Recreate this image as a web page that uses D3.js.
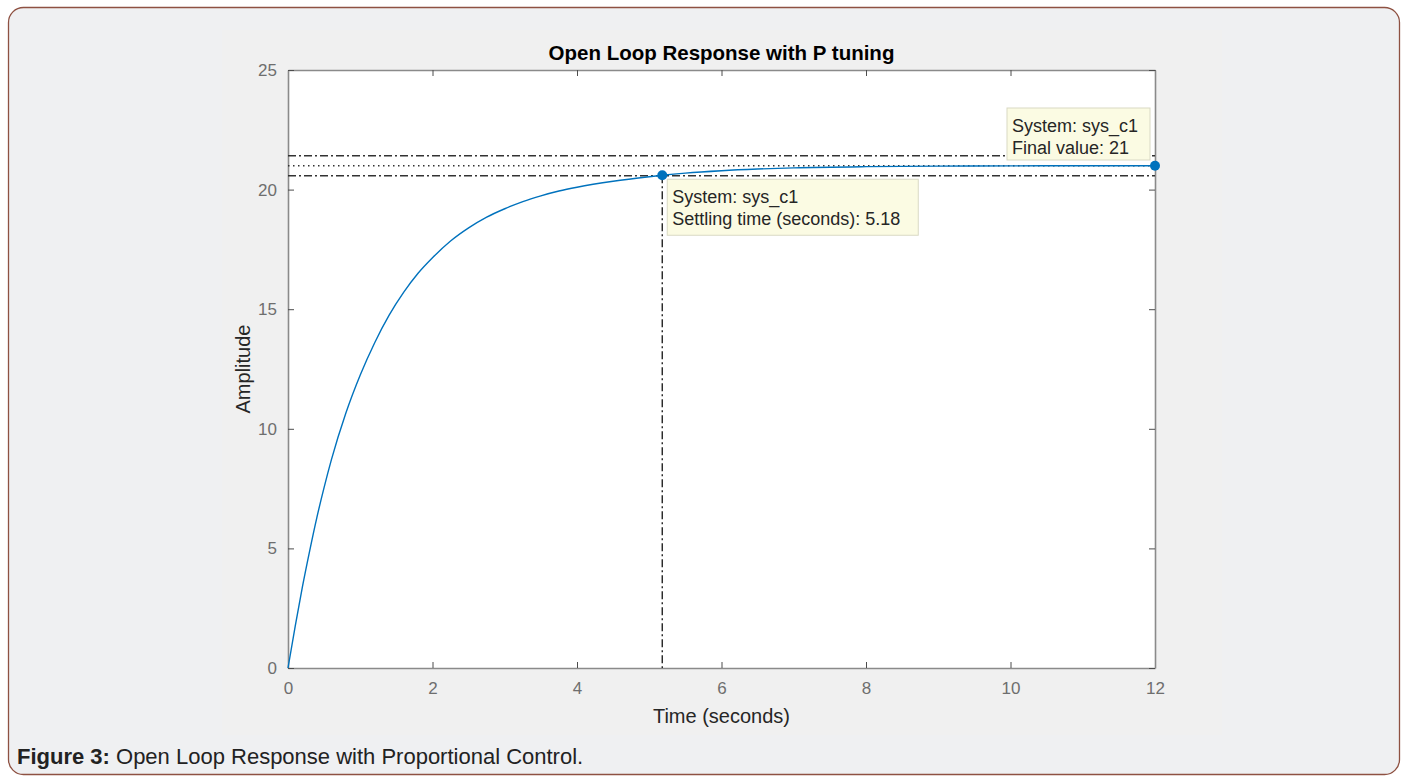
<!DOCTYPE html>
<html>
<head>
<meta charset="utf-8">
<script src="https://cdn.jsdelivr.net/npm/d3@7"></script>
<style>
  html, body { margin: 0; padding: 0; background: #ffffff; }
  svg { display: block; font-family: Arial, "Liberation Sans", sans-serif; }
</style>
</head>
<body>
<svg id="chart" width="1405" height="778"></svg>
<script>
// Step response samples of sys_c1 (time in seconds, amplitude)
const timeValues = [0, 0.1, 0.2, 0.3, 0.4, 0.5, 0.6, 0.8, 1.0, 1.2, 1.4, 1.6, 1.8, 2.0, 2.25, 2.5, 2.75, 3.0, 3.25, 3.5, 3.75, 4.0, 4.5, 5.0, 5.18, 5.5, 6.0, 6.5, 7.0, 8.0, 9.0, 10.0, 11.0, 12.0];
const amplitudeValues = [0, 1.75, 3.4, 4.9, 6.3, 7.55, 8.7, 10.65, 12.25, 13.6, 14.75, 15.7, 16.5, 17.15, 17.85, 18.4, 18.85, 19.2, 19.5, 19.74, 19.94, 20.1, 20.35, 20.54, 20.6, 20.69, 20.79, 20.86, 20.91, 20.96, 20.98, 20.99, 21.0, 21.0];

const xTicks = [0, 2, 4, 6, 8, 10, 12];
const yTicks = [0, 5, 10, 15, 20, 25];

const finalValue = 21;
const settlingTime = 5.18;
const settlingAmplitude = 20.6;
const settlingBand = 0.02;

const titleText = "Open Loop Response with P tuning";
const xLabelText = "Time (seconds)";
const yLabelText = "Amplitude";
const systemName = "sys_c1";

const svg = d3.select("#chart");

// Page panel with rounded border
svg.append("rect")
  .attr("x", 8.5).attr("y", 7.5)
  .attr("width", 1391).attr("height", 767)
  .attr("rx", 15).attr("ry", 15)
  .attr("fill", "#eff0f2")
  .attr("stroke", "#8e5142")
  .attr("stroke-width", 1.3);

// Figure window background
svg.append("rect")
  .attr("x", 222).attr("y", 30)
  .attr("width", 1000).attr("height", 705)
  .attr("fill", "#f0f0f0");

const margin = { left: 288, top: 70, right: 1155, bottom: 668 };

const x = d3.scaleLinear().domain([0, 12]).range([margin.left, margin.right]);
const y = d3.scaleLinear().domain([0, 25]).range([margin.bottom, margin.top]);

// Plot area
svg.append("rect")
  .attr("x", margin.left).attr("y", margin.top)
  .attr("width", margin.right - margin.left)
  .attr("height", margin.bottom - margin.top)
  .attr("fill", "#ffffff");

// Axes with inward ticks
const tickColor = "#4d4d4d";
const axisBottom = svg.append("g")
  .attr("transform", `translate(0,${margin.bottom})`)
  .call(d3.axisBottom(x).tickValues(xTicks).tickSizeInner(-6).tickSizeOuter(0).tickPadding(14).tickFormat(d3.format("d")));
const axisTop = svg.append("g")
  .attr("transform", `translate(0,${margin.top})`)
  .call(d3.axisTop(x).tickValues(xTicks).tickSizeInner(-6).tickSizeOuter(0).tickFormat(""));
const axisLeft = svg.append("g")
  .attr("transform", `translate(${margin.left},0)`)
  .call(d3.axisLeft(y).tickValues(yTicks).tickSizeInner(-6).tickSizeOuter(0).tickPadding(11).tickFormat(d3.format("d")));
const axisRight = svg.append("g")
  .attr("transform", `translate(${margin.right},0)`)
  .call(d3.axisRight(y).tickValues(yTicks).tickSizeInner(-6).tickSizeOuter(0).tickFormat(""));

[axisBottom, axisTop, axisLeft, axisRight].forEach(g => {
  g.select(".domain").attr("stroke", "#8a8a8a").attr("stroke-width", 1.6);
  g.selectAll(".tick line").attr("stroke", tickColor).attr("stroke-width", 1);
  g.selectAll(".tick text")
    .attr("fill", "#6e6e6e")
    .style("font-size", "17px")
    .style("font-family", "Arial, 'Liberation Sans', sans-serif");
});

// Settling band and final value reference lines
const lineData = [
  { v: finalValue * (1 + settlingBand), dash: "8,3,2,3" },
  { v: finalValue, dash: "1.5,3.5" },
  { v: finalValue * (1 - settlingBand), dash: "8,3,2,3" }
];
svg.append("g").selectAll("line")
  .data(lineData)
  .join("line")
  .attr("x1", x(0)).attr("x2", x(12))
  .attr("y1", d => y(d.v)).attr("y2", d => y(d.v))
  .attr("stroke", "#333333")
  .attr("stroke-width", 1.5)
  .attr("stroke-dasharray", d => d.dash);

// Vertical line at the settling time
svg.append("line")
  .attr("x1", x(settlingTime)).attr("x2", x(settlingTime))
  .attr("y1", y(settlingAmplitude)).attr("y2", y(0))
  .attr("stroke", "#222222")
  .attr("stroke-width", 1.4)
  .attr("stroke-dasharray", "8,3,2,3");

// Response curve
const points = timeValues.map((t, i) => [t, amplitudeValues[i]]);
svg.append("path")
  .datum(points)
  .attr("fill", "none")
  .attr("stroke", "#0072bd")
  .attr("stroke-width", 1.4)
  .attr("d", d3.line().x(d => x(d[0])).y(d => y(d[1])).curve(d3.curveMonotoneX));

// Data tip markers
svg.append("g").selectAll("circle")
  .data([[settlingTime, settlingAmplitude], [12, finalValue]])
  .join("circle")
  .attr("cx", d => x(d[0])).attr("cy", d => y(d[1]))
  .attr("r", 5)
  .attr("fill", "#0072bd");

// Data tip boxes
function dataTip(bx, by, w, h, lines) {
  const g = svg.append("g");
  g.append("rect")
    .attr("x", bx).attr("y", by).attr("width", w).attr("height", h)
    .attr("fill", "#fbfbe3")
    .attr("stroke", "#d9d9c4")
    .attr("stroke-width", 1);
  lines.forEach((s, i) => {
    g.append("text")
      .attr("x", bx + 5).attr("y", by + 24 + i * 22)
      .attr("fill", "#262626")
      .style("font-size", "18px")
      .text(s);
  });
}
dataTip(x(settlingTime) + 5, y(settlingAmplitude) + 4, 251, 56,
  [`System: ${systemName}`, `Settling time (seconds): ${settlingTime}`]);
dataTip(1007, 108, 143, 52,
  [`System: ${systemName}`, `Final value: ${finalValue}`]);

// Title and axis labels
svg.append("text")
  .attr("x", (margin.left + margin.right) / 2).attr("y", 60)
  .attr("text-anchor", "middle")
  .attr("fill", "#000")
  .style("font-size", "20.5px").style("font-weight", "bold")
  .text(titleText);

svg.append("text")
  .attr("x", (margin.left + margin.right) / 2).attr("y", 723)
  .attr("text-anchor", "middle")
  .attr("fill", "#262626")
  .style("font-size", "20px")
  .text(xLabelText);

svg.append("text")
  .attr("transform", `translate(250,${(margin.top + margin.bottom) / 2}) rotate(-90)`)
  .attr("text-anchor", "middle")
  .attr("fill", "#262626")
  .style("font-size", "20px")
  .text(yLabelText);

// Caption
const caption = svg.append("text")
  .attr("x", 17).attr("y", 764)
  .attr("fill", "#222")
  .style("font-size", "22px");
caption.append("tspan").style("font-weight", "bold").text("Figure 3:");
caption.append("tspan").text(" Open Loop Response with Proportional Control.");
</script>
</body>
</html>
